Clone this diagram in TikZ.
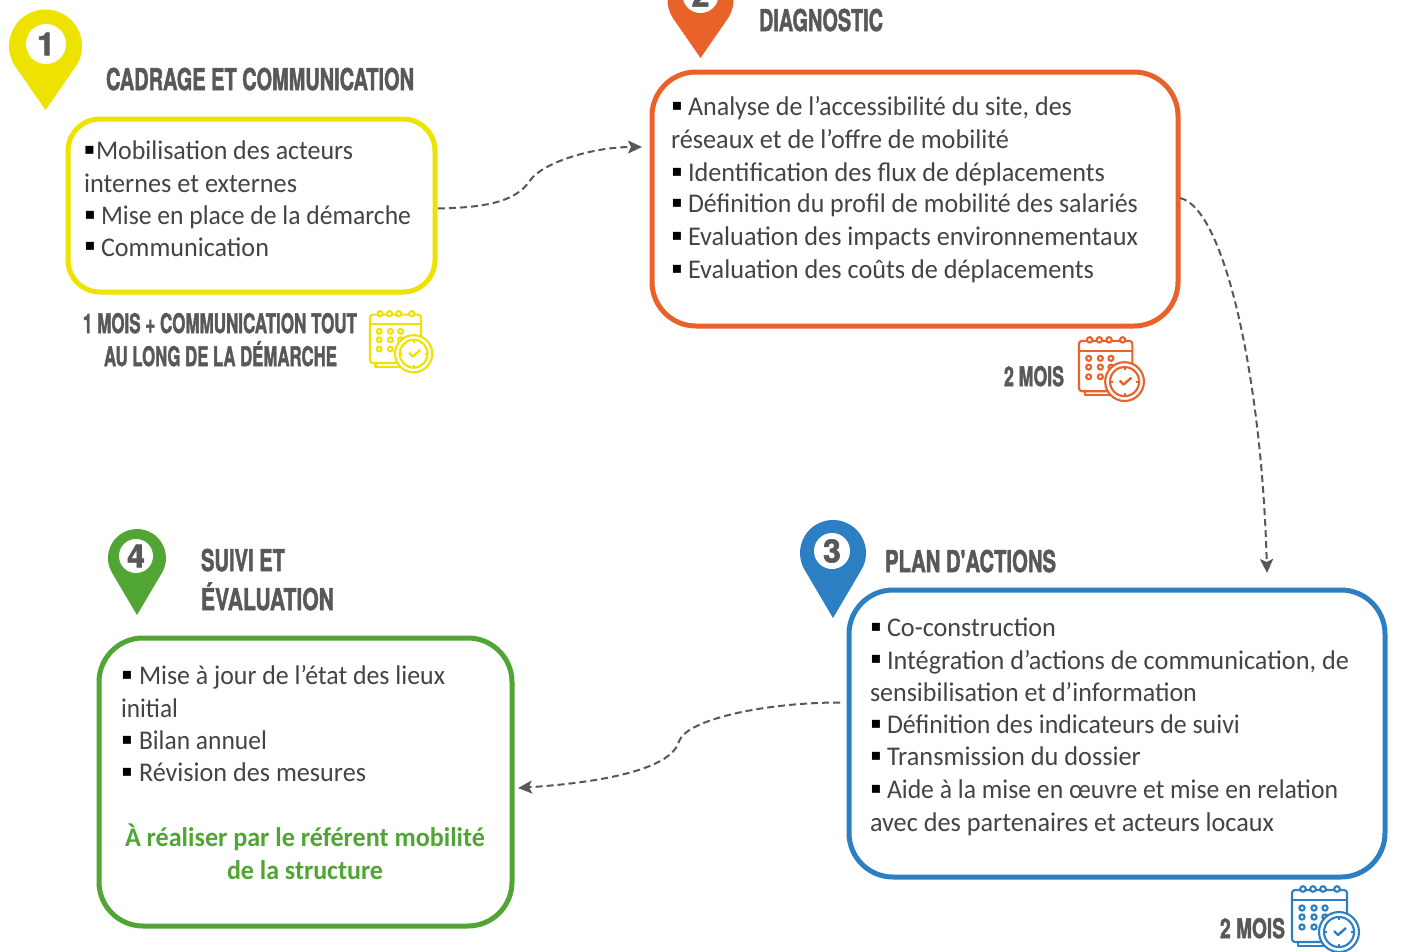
\documentclass[tikz,border=0pt]{standalone}
\usepackage{fontspec}
\usepackage{graphicx}
\usetikzlibrary{arrows.meta,calc}
\setmainfont{Carlito}
\newfontfamily\headfont{TeX Gyre Heros}[BoldFeatures={FakeBold=2}]
\newfontfamily\symfont{DejaVu Sans}
\definecolor{cyel}{HTML}{EEE300}
\definecolor{cora}{HTML}{E9622A}
\definecolor{cblu}{HTML}{2C7FC2}
\definecolor{cgre}{HTML}{50A535}
\definecolor{ctxt}{HTML}{444444}
\definecolor{chead}{HTML}{585858}
\tikzset{
  x=1pt,y=-1pt,
  stagebox/.style={draw=#1,line width=5pt,inner sep=0pt,outer sep=0pt,fill=white},
  linetext/.style={anchor=base west,inner sep=0pt,outer sep=0pt,text=ctxt,font=\fontsize{27}{32}\selectfont},
  greentext/.style={linetext,text=cgre,font=\fontsize{27}{32}\selectfont\bfseries},
  headtext/.style={anchor=base west,inner sep=0pt,outer sep=0pt,text=chead,font=\headfont\bfseries\fontsize{30}{36}\selectfont},
  subtext/.style={anchor=base west,inner sep=0pt,outer sep=0pt,text=chead,font=\headfont\bfseries\fontsize{27}{32}\selectfont},
  bullettext/.style={anchor=center,inner sep=0pt,outer sep=0pt,text=black,font=\symfont\fontsize{16}{16}\selectfont},
  pinnum/.style={circle,fill=white,inner sep=0pt,outer sep=0pt,text=chead,font=\headfont\bfseries\fontsize{32}{32}\selectfont},
  flow/.style={draw=chead,line width=2pt,dash pattern=on 7pt off 4pt,-{Stealth[length=14pt,width=13pt,inset=3pt]}},
}
% name, x0, x1, baseline, text
\newcommand\tl[6][linetext]{\node[#1] (#2) at (#3,#5) {\resizebox{\dimexpr#4pt-#3pt\relax}{\height}{#6}};}
% name, x, y
\newcommand\bl[3]{\node[bullettext] (#1) at (#2,#3) {▪};}
% name, cx, cy, r, tipy, colour, whitecx, whitecy, whiter; number in \pinnumber
\newcommand\pinmark[9]{%
  \pgfmathsetmacro\phiang{acos(#4/(#5-#3))}%
  \fill[#6] (#2,#5) -- ($(#2,#3)+({#4*cos(90-\phiang)},{#4*sin(90-\phiang)})$)
    arc[start angle=90-\phiang,end angle=90+\phiang-360,radius=#4] -- cycle;
  \node[pinnum,minimum size=2*#9pt] (#1) at (#7,#8) {\pinnumber};}
% x, y, scale, colour
\newcommand\calicon[4]{%
\begin{scope}[shift={(#1,#2)},scale=#3,draw=#4,line width=2.1pt,line join=round]
  \draw (7,57) -- (7,61) -- (48,61);
  \draw[rounded corners=3pt] (1,5) rectangle (56,57);
  \draw (1,15) -- (56,15);
  \foreach \rx in {12,22,32,46} \draw[fill=white] (\rx,4) circle[radius=2.8];
  \foreach \dx in {11,23,34} \foreach \dy in {23,32,42} \draw (\dx,\dy) circle[radius=2.6];
  \draw[fill=white] (48,47) circle[radius=20];
  \draw (48,47) circle[radius=15];
  \draw[line width=2.4pt] (43,46) -- (47,50) -- (55,43);
  \draw (48,32) -- (48,35) (48,59) -- (48,62) (33,47) -- (36,47) (60,47) -- (63,47);
\end{scope}}
\begin{document}
\begin{tikzpicture}
\path[use as bounding box,fill=white] (0,0) rectangle (1425,951);
\clip (0,0) rectangle (1425,951);
% boxes
\node[stagebox=cyel,rounded corners=32pt,minimum width=367pt,minimum height=173pt] (box1) at (251.5,205.5) {};
\node[stagebox=cora,rounded corners=44pt,minimum width=526pt,minimum height=254pt] (box2) at (915,199) {};
\node[stagebox=cblu,rounded corners=44pt,minimum width=536pt,minimum height=287pt] (box3) at (1117,733.5) {};
\node[stagebox=cgre,rounded corners=44pt,minimum width=413pt,minimum height=288pt] (box4) at (305.5,782) {};
% pins
\def\pinnumber{1}\pinmark{pin1}{45.5}{46}{36.5}{110}{cyel}{46}{44}{20}
\def\pinnumber{2}\pinmark{pin2}{700.5}{0}{33}{58}{cora}{700.5}{-5}{18}
\def\pinnumber{3}\pinmark{pin3}{833}{553}{33}{618}{cblu}{832}{551}{18}
\def\pinnumber{4}\pinmark{pin4}{137}{558}{29}{615}{cgre}{136}{556}{17}
% headings
\tl[headtext]{h1}{106}{414}{90}{CADRAGE ET COMMUNICATION}
\tl[headtext]{h2}{759}{883}{31}{DIAGNOSTIC}
\tl[headtext]{h3}{885}{1056}{572}{PLAN D'ACTIONS}
\tl[headtext]{h4a}{201}{285}{571}{SUIVI ET}
\tl[headtext]{h4b}{201}{334}{610}{ÉVALUATION}
% durations
\tl[subtext]{d1a}{83}{357}{333}{1 MOIS + COMMUNICATION TOUT}
\tl[subtext]{d1b}{104}{337}{366}{AU LONG DE LA DÉMARCHE}
\tl[subtext]{d2}{1004}{1064}{386}{2 MOIS}
\tl[subtext]{d3}{1220}{1285}{938}{2 MOIS}
% box 1
\bl{s1a}{89.5}{150}\tl{t1a}{96}{353}{159}{Mobilisation des acteurs}
\tl{t1b}{84}{297}{192}{internes et externes}
\bl{s1c}{90}{215}\tl{t1c}{101}{411}{224}{Mise en place de la démarche}
\bl{s1d}{90}{246}\tl{t1d}{101}{269}{256}{Communication}
% box 2
\bl{s2a}{677}{106}\tl{t2a}{688}{1072}{115}{Analyse de l’accessibilité du site, des}
\tl{t2b}{671}{1009}{148}{réseaux et de l’offre de mobilité}
\bl{s2c}{677}{172}\tl{t2c}{688}{1105}{181}{Identification des flux de déplacements}
\bl{s2d}{677}{203}\tl{t2d}{688}{1138}{212}{Définition du profil de mobilité des salariés}
\bl{s2e}{677}{236}\tl{t2e}{688}{1138}{245}{Evaluation des impacts environnementaux}
\bl{s2f}{677}{269}\tl{t2f}{688}{1094}{278}{Evaluation des coûts de déplacements}
% box 3
\bl{s3a}{876}{627}\tl{t3a}{887}{1056}{636}{Co-construction}
\bl{s3b}{876}{659}\tl{t3b}{887}{1349}{669}{Intégration d’actions de communication, de}
\tl{t3c}{870}{1197}{701}{sensibilisation et d’information}
\bl{s3d}{876}{724}\tl{t3d}{887}{1240}{733}{Définition des indicateurs de suivi}
\bl{s3e}{876}{756}\tl{t3e}{887}{1141}{765}{Transmission du dossier}
\bl{s3f}{876}{789}\tl{t3f}{887}{1338}{798}{Aide à la mise en œuvre et mise en relation}
\tl{t3g}{870}{1274}{831}{avec des partenaires et acteurs locaux}
% box 4
\bl{s4a}{127}{675}\tl{t4a}{139}{445}{684}{Mise à jour de l’état des lieux}
\tl{t4b}{121}{178}{717}{initial}
\bl{s4c}{127}{740}\tl{t4c}{139}{267}{749}{Bilan annuel}
\bl{s4d}{127}{772}\tl{t4d}{139}{366}{781}{Révision des mesures}
\tl[greentext]{t4e}{125}{485}{846}{À réaliser par le référent mobilité}
\tl[greentext]{t4f}{227}{383}{879}{de la structure}
% calendars
\calicon{369}{310}{0.93}{cyel}
\calicon{1078}{336}{0.97}{cora}
\calicon{1291}{885}{1}{cblu}
% connectors
\coordinate (c12s) at ($(box1.east)+(3,3)$);
\coordinate (c12e) at ($(box2.west)+(-10,-52)$);
\coordinate (c23s) at ($(box2.east)+(2,-1)$);
\coordinate (c23e) at ($(box3.north)+(150,-17)$);
\coordinate (c34s) at ($(box3.west)+(-9,-31)$);
\coordinate (c34e) at ($(box4.east)+(6,6)$);
\draw[flow] (c12s) .. controls +(45,-1) and +(-15,22) .. ($(c12s)!0.45!(c12e)$) .. controls +(12,-18) and +(-50,0) .. (c12e);
\draw[flow] (c23s) .. controls +(45,10) and +(-5,-192) .. (c23e);
\draw[flow] (c34s) .. controls +(-75,0) and +(8,-22) .. ($(c34s)!0.5!(c34e)+(0,-4)$) .. controls +(-8,30) and +(75,-5) .. (c34e);
\end{tikzpicture}
\end{document}
